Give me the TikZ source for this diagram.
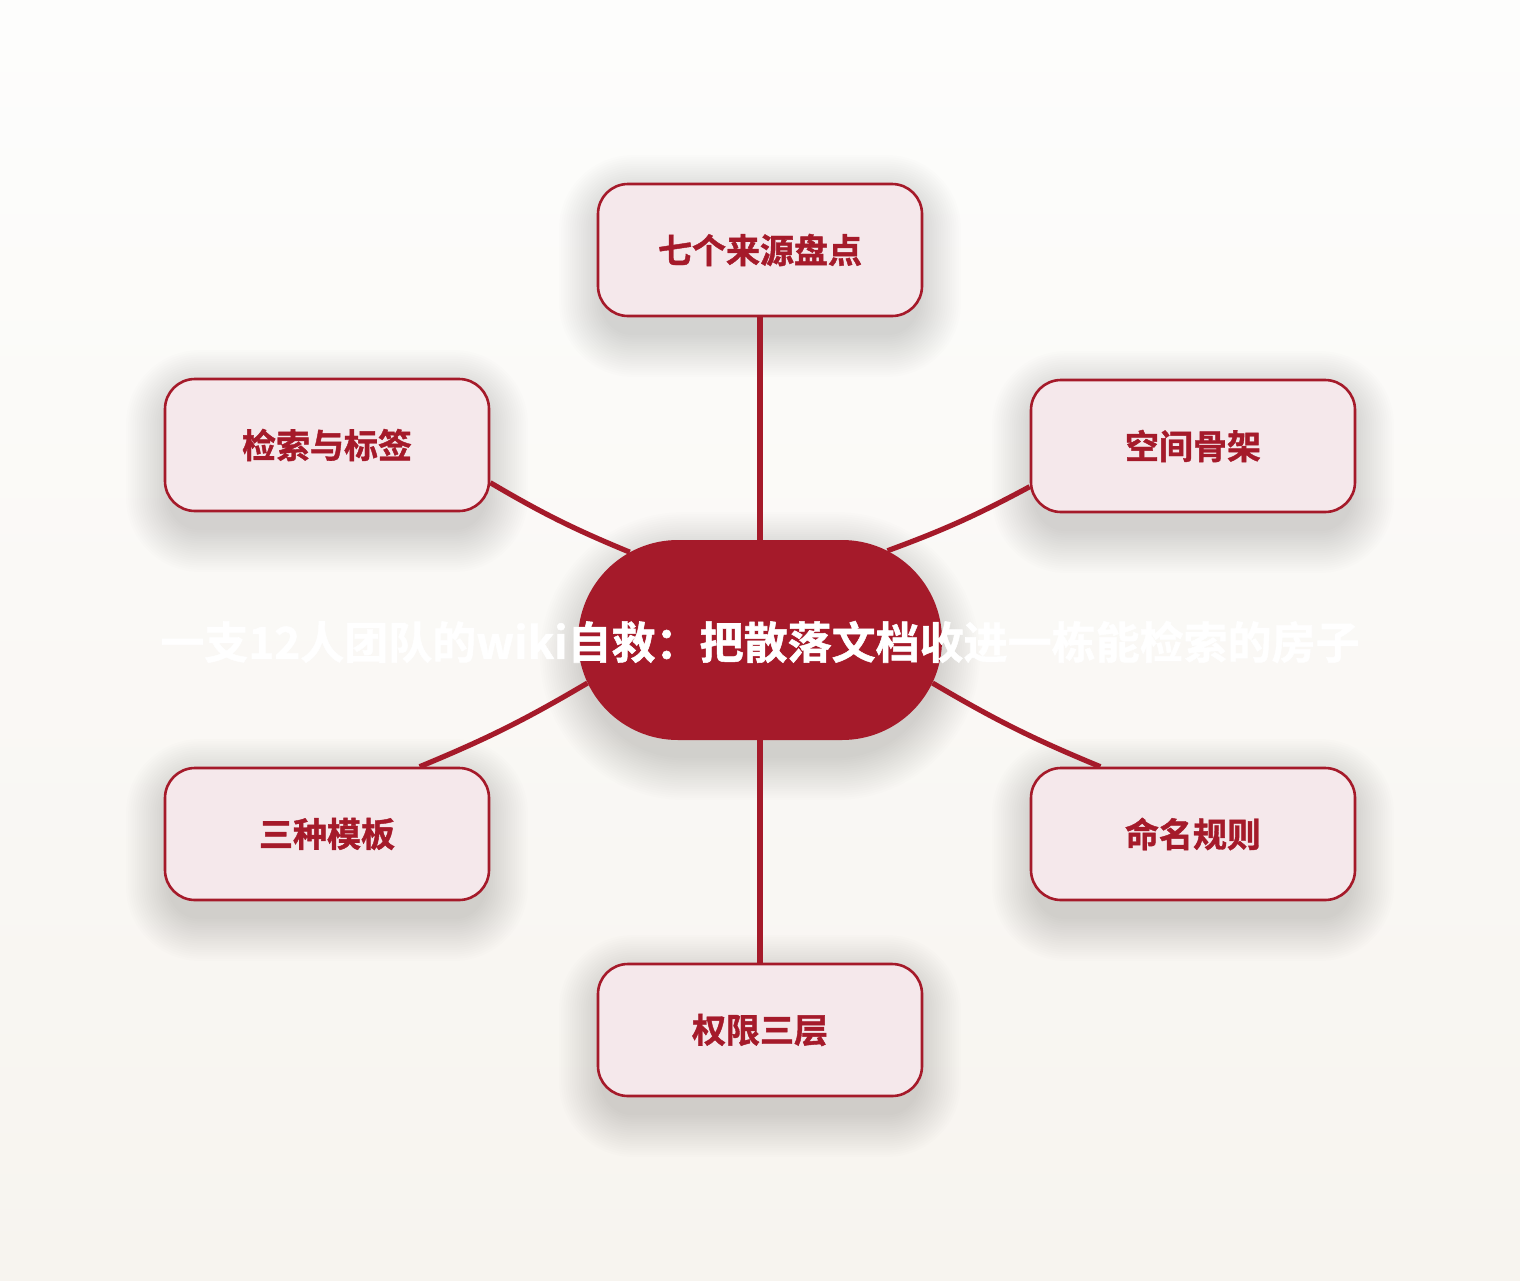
\documentclass[tikz,border=0pt]{standalone}
\usepackage{fontspec}
\newfontfamily\cjk{Noto Sans CJK SC}[BoldFont={Noto Sans CJK SC Bold},BoldFeatures={FakeBold=1.2}]
\usetikzlibrary{shapes.misc}
\definecolor{wred}{RGB}{165,26,42}
\definecolor{wpink}{RGB}{245,232,235}
\definecolor{bgtop}{RGB}{253,253,252}
\definecolor{bgbot}{RGB}{247,244,239}
\pgfdeclarelayer{back}
\pgfdeclarelayer{edges}
\pgfsetlayers{back,edges,main}
\newcommand\softshadow[5]{%
  \foreach \k in {1,...,20}{%
    \pgfmathsetmacro\rr{#5+\k*2.2}%
    \fill[black,opacity=0.0075,rounded corners=\rr pt]
      ({#1-#3/2-\k*2.2+6},{#2+16-#4/2-\k*2.2}) rectangle ({#1+#3/2+\k*2.2-6},{#2+16+#4/2+\k*2.2});
  }}
\tikzset{
  leaf/.style={draw=wred, line width=2.6pt, fill=wpink, rounded corners=30pt,
    minimum width=324pt, minimum height=132pt, inner sep=0pt,
    font=\cjk\bfseries\fontsize{34}{40}\selectfont, text=wred},
  hub/.style={rounded rectangle, fill=wred, minimum width=364pt, minimum height=200pt, inner sep=0pt},
  titletext/.style={font=\cjk\bfseries\fontsize{44}{52}\selectfont, text=white, inner sep=0pt},
  conn/.style={draw=wred, line width=5.2pt}
}
\begin{document}
\begin{tikzpicture}[x=1pt,y=-1pt]
\begin{pgfonlayer}{back}
  \shade[top color=bgtop, bottom color=bgbot] (0,0) rectangle (1520,1280);
  \softshadow{760}{250}{326}{134}{30}
  \softshadow{1193}{446}{326}{134}{30}
  \softshadow{1193}{834}{326}{134}{30}
  \softshadow{760}{1030}{326}{134}{30}
  \softshadow{327}{834}{326}{134}{30}
  \softshadow{327}{445}{326}{134}{30}
  \softshadow{760}{640}{364}{200}{100}
\end{pgfonlayer}
\useasboundingbox (0,0) rectangle (1520,1280);

\node[hub] (c) at (760,640) {};
\node[leaf] (t)  at (760,250)  {七个来源盘点};
\node[leaf] (ur) at (1193,446) {空间骨架};
\node[leaf] (lr) at (1193,834) {命名规则};
\node[leaf] (b)  at (760,1030) {权限三层};
\node[leaf] (ll) at (327,834)  {三种模板};
\node[leaf] (ul) at (327,445)  {检索与标签};
\node[titletext] (title) at (760,642) {一支12人团队的wiki自救：把散落文档收进一栋能检索的房子};

\begin{pgfonlayer}{edges}
  \draw[conn] (c.north) -- (t.south);
  \draw[conn] (c.south) -- (b.north);
  \draw[conn] (c.146) to[bend left=4] (ul.-13.5);
  \draw[conn] (c.35) to[bend right=4] (ur.-166);
  \draw[conn] (c.-166) to[bend left=4] (ll.36.4);
  \draw[conn] (c.-14) to[bend right=4] (lr.144);
\end{pgfonlayer}
\end{tikzpicture}
\end{document}
